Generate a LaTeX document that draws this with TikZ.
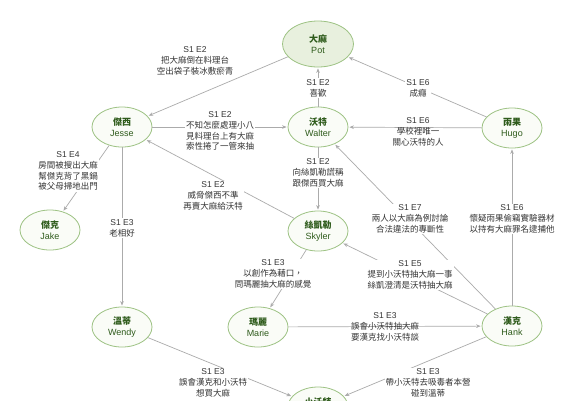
\documentclass[tikz,border=0pt]{standalone}
\usepackage{fontspec}
\setmainfont{Liberation Sans}
\newfontfamily\cjk{Noto Sans CJK TC}
\usetikzlibrary{shapes.geometric,arrows.meta}
\definecolor{nodeborder}{HTML}{9DC283}
\definecolor{nodefill}{HTML}{FAFCF7}
\definecolor{potfill}{HTML}{E8F0DE}
\definecolor{nametext}{HTML}{2E5B1B}
\definecolor{edgegray}{HTML}{ABABAB}
\definecolor{labeltext}{HTML}{333333}
\tikzset{
 person/.style={ellipse, draw=nodeborder, fill=nodefill, line width=0.8pt, minimum width=60pt, minimum height=40pt, inner sep=0pt, align=center, text=nametext, font=\fontsize{9}{11}\selectfont},
 rel/.style={draw=edgegray, line width=0.7pt, shorten >=1pt, -{Stealth[length=4.5pt,width=3.6pt]}},
 lbl/.style={align=center, text=labeltext, font=\cjk\fontsize{8.5}{10.8}\selectfont, inner sep=1pt, fill=white},
 lblnf/.style={lbl, fill=none},
}
\newcommand{\nm}[2]{{\cjk\bfseries #1}\\#2}
\newcommand{\ep}[1]{{\rmfamily #1}}
\begin{document}
\begin{tikzpicture}[x=1pt,y=-1pt]
\useasboundingbox (0,0) rectangle (576,400);
\clip (0,0) rectangle (576,400);
\fill[white] (0,0) rectangle (576,400);
% people
\node[person, fill=potfill, minimum width=71pt, minimum height=46pt] (pot) at (318,44) {\nm{大麻}{Pot}};
\node[person] (jesse) at (122,127) {\nm{傑西}{Jesse}};
\node[person] (walter) at (318,127) {\nm{沃特}{Walter}};
\node[person] (hugo) at (512,128) {\nm{雨果}{Hugo}};
\node[person] (jake) at (50,230) {\nm{傑克}{Jake}};
\node[person] (skyler) at (318,231) {\nm{絲凱勒}{Skyler}};
\node[person] (wendy) at (122,327) {\nm{溫蒂}{Wendy}};
\node[person] (marie) at (258,327) {\nm{瑪麗}{Marie}};
\node[person] (hank) at (512,326) {\nm{漢克}{Hank}};
\node[person] (xwt) at (318,407) {\nm{小沃特}{\phantom{Walter}}};
% relations
\draw[rel] (pot) -- (jesse);
\draw[rel] (walter) -- (pot);
\draw[rel] (hugo) -- (pot);
\draw[rel] (jesse) -- (walter);
\draw[rel] (hugo) -- (walter);
\draw[rel] (walter) -- (skyler);
\draw[rel] (skyler) -- (jesse);
\draw[rel] (jesse) -- (jake);
\draw[rel] (jesse) -- (wendy);
\draw[rel] (hank) -- (walter);
\draw[rel] (hank) -- (hugo);
\draw[rel] (skyler) -- (marie);
\draw[rel] (hank) -- (skyler);
\draw[rel] (marie) -- (hank);
\draw[rel] (wendy) -- (xwt);
\draw[rel] (hank) -- (xwt);
% labels
\node[lbl] (l1) at (195,61) {\ep{S1 E2}\\把大麻倒在料理台\\空出袋子裝冰敷瘀青};
\node[lbl] (l2) at (318,88) {\ep{S1 E2}\\喜歡};
\node[lbl] (l3) at (418,88) {\ep{S1 E6}\\成癮};
\node[lbl] (l4) at (220,131) {\ep{S1 E2}\\不知怎麼處理小八\\見料理台上有大麻\\索性捲了一管來抽};
\node[lblnf] (l5) at (418,132) {\ep{S1 E6}\\學校裡唯一\\關心沃特的人};
\node[lbl] (l6) at (318,173) {\ep{S1 E2}\\向絲凱勒謊稱\\跟傑西買大麻};
\node[lbl] (l7) at (213,196) {\ep{S1 E2}\\威脅傑西不準\\再賣大麻給沃特};
\node[lbl] (l8) at (68,171) {\ep{S1 E4}\\房間被搜出大麻\\幫傑克背了黑鍋\\被父母掃地出門};
\node[lbl] (l9) at (122,228) {\ep{S1 E3}\\老相好};
\node[lbl] (l10) at (410,219) {\ep{S1 E7}\\兩人以大麻為例討論\\合法違法的專斷性};
\node[lbl] (l11) at (512,219) {\ep{S1 E6}\\懷疑雨果偷竊實驗器材\\以持有大麻罪名逮捕他};
\node[lbl] (l12) at (273,274) {\ep{S1 E3}\\以創作為藉口，\\問瑪麗抽大麻的感覺};
\node[lbl] (l13) at (410,275) {\ep{S1 E5}\\提到小沃特抽大麻一事\\絲凱澄清是沃特抽大麻};
\node[lblnf] (l14) at (385,327) {\ep{S1 E3}\\誤會小沃特抽大麻\\要漢克找小沃特談};
\node[lbl] (l15) at (213,383) {\ep{S1 E3}\\誤會漢克和小沃特\\想買大麻};
\node[lbl] (l16) at (428,383) {\ep{S1 E3}\\帶小沃特去吸毒者本營\\碰到溫蒂};
\end{tikzpicture}
\end{document}
